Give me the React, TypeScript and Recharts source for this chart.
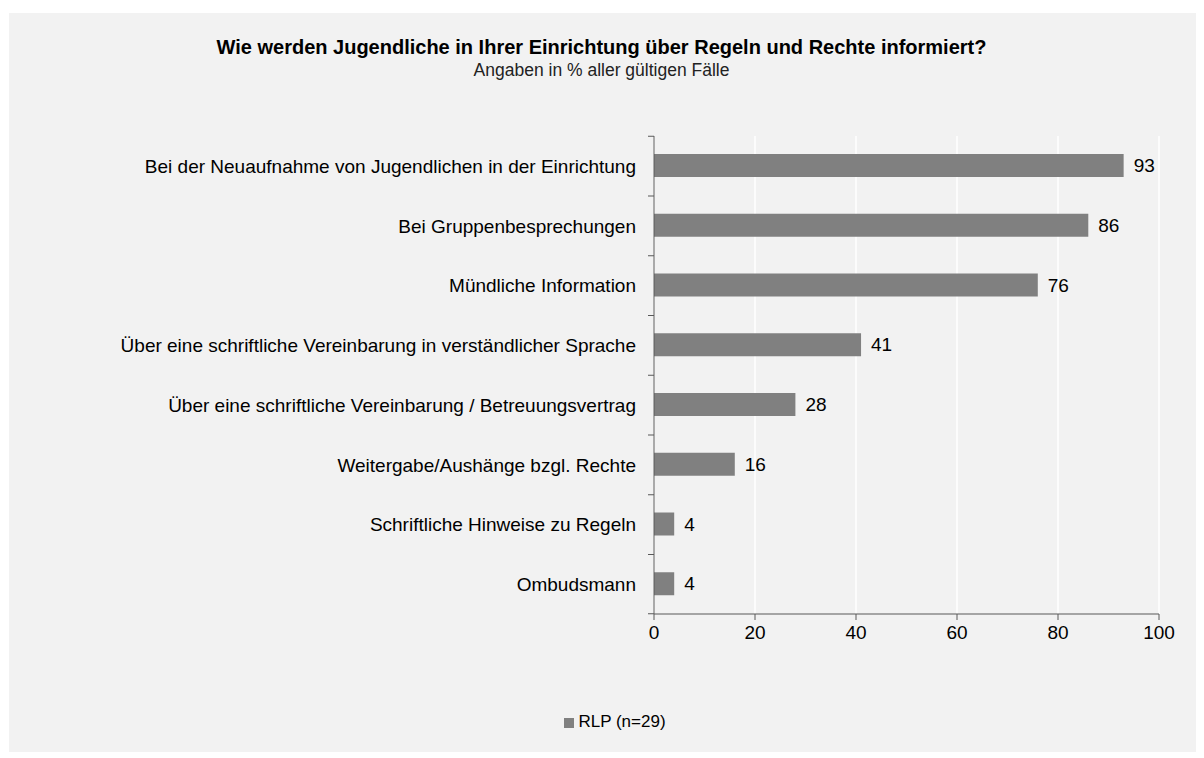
import React from "react";
import {
  BarChart,
  Bar,
  XAxis,
  YAxis,
  CartesianGrid,
  Legend,
  LabelList,
} from "recharts";

const categories = [
  "Bei der Neuaufnahme von Jugendlichen in der Einrichtung",
  "Bei Gruppenbesprechungen",
  "Mündliche Information",
  "Über eine schriftliche Vereinbarung in verständlicher Sprache",
  "Über eine schriftliche Vereinbarung / Betreuungsvertrag",
  "Weitergabe/Aushänge bzgl. Rechte",
  "Schriftliche Hinweise zu Regeln",
  "Ombudsmann",
];
const rlpValues = [93, 86, 76, 41, 28, 16, 4, 4];
const xTicks = [0, 20, 40, 60, 80, 100];
const seriesName = "RLP (n=29)";

const data = categories.map((name, i) => ({ name, rlp: rlpValues[i] }));

const W = 1195;
const H = 744;
const FONT = "'Liberation Sans', Arial, sans-serif";
const AXIS = "#595959";
const PLOT_TOP = 123;
const PLOT_BOTTOM = 597;
const BAND = (PLOT_BOTTOM - PLOT_TOP) / categories.length;
const AXIS_X = 645;

function CategoryTick(props: any) {
  const { y, payload, index } = props;
  const top = y - BAND / 2;
  return (
    <g>
      <line x1={AXIS_X - 6} x2={AXIS_X} y1={top} y2={top} stroke={AXIS} strokeWidth={1} />
      {index === categories.length - 1 && (
        <line x1={AXIS_X - 6} x2={AXIS_X} y1={top + BAND} y2={top + BAND} stroke={AXIS} strokeWidth={1} />
      )}
      <text x={AXIS_X - 18} y={y} dy={7} textAnchor="end" fill="#000" fontSize={19} fontFamily={FONT}>
        {payload.value}
      </text>
    </g>
  );
}

export default function App() {
  return (
    <div style={{ position: "relative", left: 1, top: 5, width: W, height: H, background: "#f2f2f2" }}>
      <div style={{ position: "absolute", top: 23, left: 0, width: W - 10, textAlign: "center", fontFamily: FONT, color: "#000", zIndex: 2 }}>
        <div style={{ fontSize: 20, fontWeight: 700, lineHeight: "23px" }}>
          Wie werden Jugendliche in Ihrer Einrichtung über Regeln und Rechte informiert?
        </div>
        <div style={{ fontSize: 17.5, lineHeight: "23px", color: "#222" }}>
          Angaben in % aller gültigen Fälle
        </div>
      </div>
      <BarChart
        width={W}
        height={H}
        data={data}
        layout="vertical"
        margin={{ top: PLOT_TOP, right: 45, left: 0, bottom: 25 }}
        barSize={23}
      >
        <CartesianGrid horizontal={false} stroke="#ffffff" strokeWidth={1.5} />
        <XAxis
          type="number"
          domain={[0, 100]}
          ticks={xTicks}
          interval={0}
          height={98}
          stroke={AXIS}
          tickSize={6}
          tickMargin={6}
          tick={{ fill: "#000", fontSize: 19, fontFamily: FONT }}
        />
        <YAxis
          type="category"
          dataKey="name"
          width={AXIS_X}
          stroke={AXIS}
          tickLine={false}
          interval={0}
          tick={<CategoryTick />}
        />
        <Legend
          verticalAlign="bottom"
          align="center"
          iconType="square"
          iconSize={10}
          wrapperStyle={{ paddingLeft: 36 }}
          formatter={(v: string) => <span style={{ color: "#000", fontSize: 17, fontFamily: FONT }}>{v}</span>}
        />
        <Bar dataKey="rlp" name={seriesName} fill="#808080" isAnimationActive={false}>
          <LabelList dataKey="rlp" position="right" offset={10} fill="#000" fontSize={19} fontFamily={FONT} />
        </Bar>
      </BarChart>
    </div>
  );
}
